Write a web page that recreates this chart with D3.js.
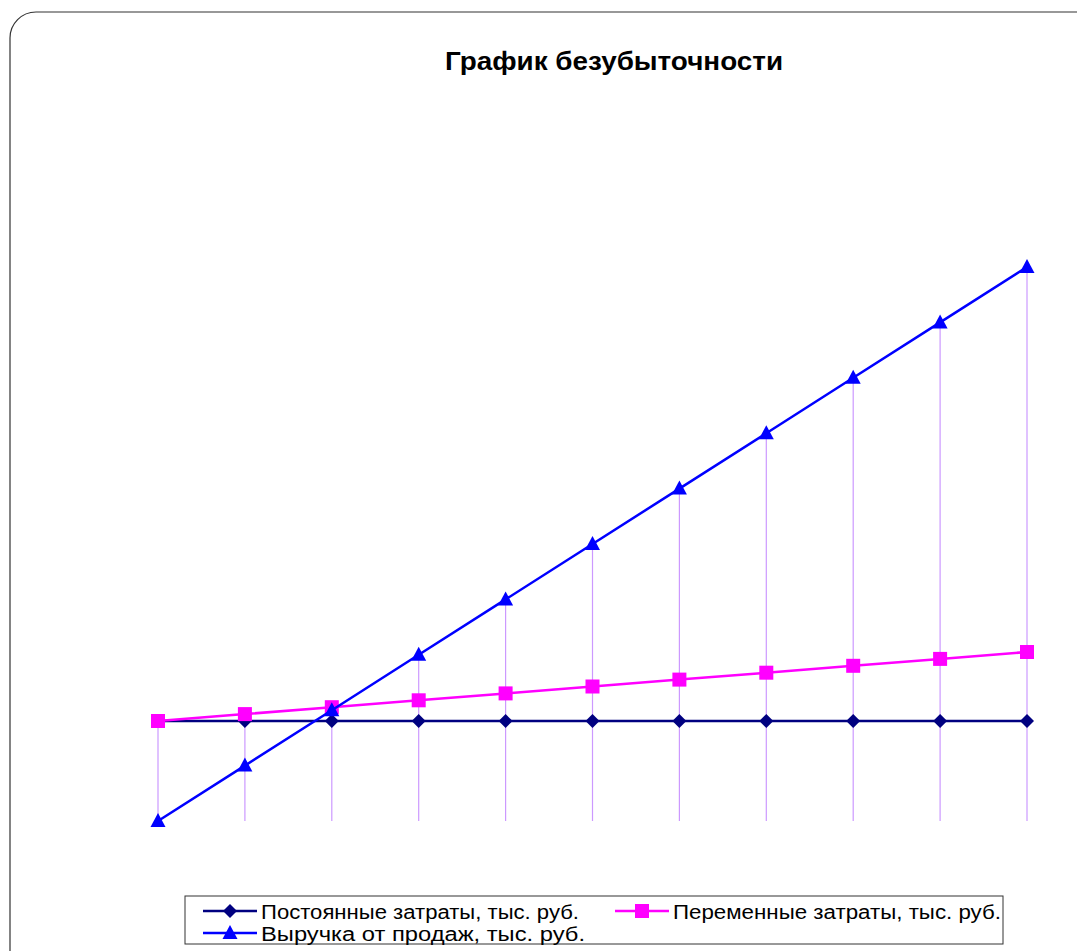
<!DOCTYPE html>
<html>
<head>
<meta charset="utf-8">
<script src="https://cdn.jsdelivr.net/npm/d3@7"></script>
<style>
  body { margin: 0; background: #fff; }
  svg { display: block; font-family: "Liberation Sans", Arial, sans-serif; }
</style>
</head>
<body>
<svg id="chart"></svg>
<script>
const width = 1077, height = 951;

// volume steps (categories)
const categories = [0, 1, 2, 3, 4, 5, 6, 7, 8, 9, 10];
const fixedCosts = [1000, 1000, 1000, 1000, 1000, 1000, 1000, 1000, 1000, 1000, 1000];
const variableCosts = [1000, 1069, 1138, 1207, 1276, 1345, 1414, 1483, 1552, 1621, 1690];
const revenue = [0, 554, 1108, 1662, 2216, 2770, 3324, 3878, 4432, 4986, 5540];
const seriesNames = ['Постоянные затраты, тыс. руб.', 'Переменные затраты, тыс. руб.', 'Выручка от продаж, тыс. руб.'];

const svg = d3.select('#chart')
  .attr('width', width)
  .attr('height', height);

// chart area frame
svg.append('rect')
  .attr('x', 10).attr('y', 12)
  .attr('width', 1100).attr('height', 1000)
  .attr('rx', 26).attr('ry', 26)
  .attr('fill', '#fff')
  .attr('stroke', '#333')
  .attr('stroke-width', 1.2);

svg.append('text')
  .attr('x', 614).attr('y', 70)
  .attr('text-anchor', 'middle')
  .style('font-size', '25px')
  .style('font-weight', 'bold')
  .attr('textLength', 338).attr('lengthAdjust', 'spacingAndGlyphs')
  .text('График безубыточности');

const x = d3.scalePoint()
  .domain(categories)
  .range([158, 1027]);

const y = d3.scaleLinear()
  .domain([0, 7000])
  .range([821, 121]);

// drop lines
const g = svg.append('g');
g.selectAll('line.drop')
  .data(categories)
  .join('line')
  .attr('class', 'drop')
  .attr('x1', (d) => x(d)).attr('x2', (d) => x(d))
  .attr('y1', y(0))
  .attr('y2', (d, i) => y(Math.max(fixedCosts[i], variableCosts[i], revenue[i])))
  .attr('stroke', '#cc99ff')
  .attr('stroke-width', 1.2);

const line = d3.line()
  .x((d, i) => x(categories[i]))
  .y((d) => y(d));

const series = [
  { name: seriesNames[0], values: fixedCosts, color: '#000080', marker: 'diamond' },
  { name: seriesNames[1], values: variableCosts, color: '#ff00ff', marker: 'square' },
  { name: seriesNames[2], values: revenue, color: '#0000ff', marker: 'triangle' }
];

function drawMarker(sel, type, color, cx, cy) {
  if (type === 'diamond') {
    sel.append('path')
      .attr('d', `M${cx},${cy - 7}L${cx + 7},${cy}L${cx},${cy + 7}L${cx - 7},${cy}Z`)
      .attr('fill', color);
  } else if (type === 'square') {
    sel.append('rect')
      .attr('x', cx - 7).attr('y', cy - 7)
      .attr('width', 14).attr('height', 14)
      .attr('fill', color);
  } else {
    sel.append('path')
      .attr('d', `M${cx},${cy - 8}L${cx + 7.5},${cy + 6}L${cx - 7.5},${cy + 6}Z`)
      .attr('fill', color);
  }
}

series.forEach((s) => {
  g.append('path')
    .datum(s.values)
    .attr('d', line)
    .attr('fill', 'none')
    .attr('stroke', s.color)
    .attr('stroke-width', 2.5);
  s.values.forEach((v, i) => drawMarker(g, s.marker, s.color, x(categories[i]), y(v)));
});

// legend
const legend = svg.append('g');
legend.append('rect')
  .attr('x', 185).attr('y', 896)
  .attr('width', 818).attr('height', 48)
  .attr('fill', '#fff')
  .attr('stroke', '#333')
  .attr('stroke-width', 1);

const legendPos = [[203, 911], [615, 911], [203, 933]];
const legendLen = [318, 328, 324];
series.forEach((s, i) => {
  const [lx, ly] = legendPos[i];
  legend.append('line')
    .attr('x1', lx).attr('x2', lx + 54)
    .attr('y1', ly).attr('y2', ly)
    .attr('stroke', s.color)
    .attr('stroke-width', 2.5);
  drawMarker(legend, s.marker, s.color, lx + 27, ly);
  legend.append('text')
    .attr('x', lx + 58).attr('y', ly + 8)
    .style('font-size', '20px')
    .attr('textLength', legendLen[i]).attr('lengthAdjust', 'spacingAndGlyphs')
    .text(s.name);
});
</script>
</body>
</html>
